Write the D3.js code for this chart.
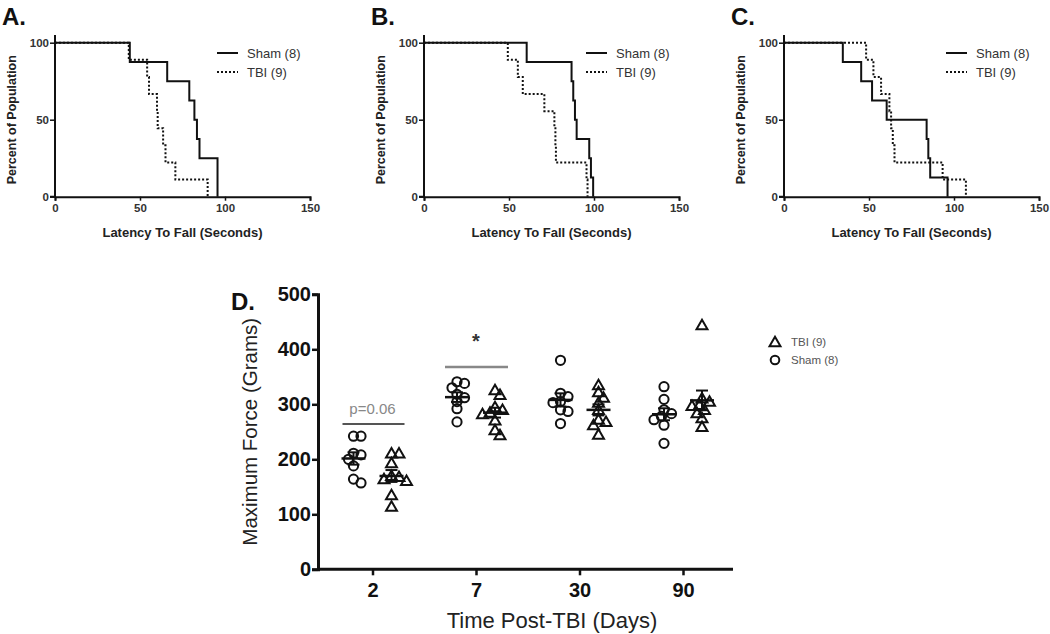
<!DOCTYPE html>
<html>
<head>
<meta charset="utf-8">
<script src="https://cdn.jsdelivr.net/npm/d3@7"></script>
<style>
  html, body { margin: 0; padding: 0; background: #fff; }
  svg { display: block; font-family: Arial, "Liberation Sans", sans-serif; }
</style>
</head>
<body>
<svg id="chart" width="1050" height="634"></svg>
<script>
// ---------- Data: Kaplan-Meier event times (seconds) ----------
const panelNames = ["A.", "B.", "C."];
const shamTimesA = [44, 66, 79, 82, 83.5, 85, 95.6, 95.6];
const tbiTimesA  = [43.4, 54.2, 55.3, 60, 60.4, 63.6, 65, 70.8, 89.8];
const shamTimesB = [60.4, 86.8, 87.8, 88.8, 89.8, 97.2, 98.2, 99.5];
const tbiTimesB  = [49.3, 55.2, 58.1, 70.8, 76.7, 77.3, 77.6, 95.6, 96.2];
const shamTimesC = [34.6, 45.4, 51.8, 60.4, 83.9, 84.9, 86, 96.2];
const tbiTimesC  = [48.3, 52.6, 57.1, 62, 63, 64, 65, 93.3, 107];
const survXTicks = [0, 50, 100, 150];
const survYTicks = [0, 50, 100];
const survLegend = ["Sham (8)", "TBI (9)"];

// ---------- Data: grip strength (grams) ----------
const days = ["2", "7", "30", "90"];
const shamForce = [
  [242, 242, 211, 208, 200, 188, 164, 157],
  [341, 338, 330, 318, 312, 305, 292, 268],
  [380, 320, 314, 305, 303, 290, 287, 265],
  [332, 309, 290, 283, 278, 272, 262, 229]
];
const tbiForce = [
  [211, 211, 193, 170, 168, 164, 161, 135, 114],
  [326, 317, 295, 290, 285, 282, 271, 253, 244],
  [335, 322, 312, 303, 290, 272, 268, 262, 245],
  [444, 311, 305, 299, 297, 290, 284, 275, 259]
];
const forceTicks = [0, 100, 200, 300, 400, 500];
const forceLegend = ["TBI (9)", "Sham (8)"];
const annotations = ["p=0.06", "*"];

const svg = d3.select("#chart");
const ink = "#111";
const FONT = "Arial, 'Liberation Sans', sans-serif";

// ---------- Survival panels ----------
const survSets = [
  [shamTimesA, tbiTimesA],
  [shamTimesB, tbiTimesB],
  [shamTimesC, tbiTimesC]
];
const panelX0 = [55, 424, 784];

function kmPoints(times) {
  const n = times.length;
  const sorted = times.slice().sort((a, b) => a - b);
  const pts = [[0, 100]];
  sorted.forEach((t, i) => pts.push([t, 100 * (n - i - 1) / n]));
  return pts;
}

survSets.forEach((sets, p) => {
  const g = svg.append("g");
  const x = d3.scaleLinear().domain([0, 150]).range([panelX0[p], panelX0[p] + 255]);
  const y = d3.scaleLinear().domain([0, 100]).range([196.7, 42.7]);

  const xa = g.append("g").attr("transform", `translate(0,${y(0)})`)
    .call(d3.axisBottom(x).tickValues(survXTicks).tickSize(4).tickPadding(3));
  const ya = g.append("g").attr("transform", `translate(${x(0)},0)`)
    .call(d3.axisLeft(y).tickValues(survYTicks).tickSize(5).tickPadding(1));
  ya.select(".domain").attr("d", `M-5,${y(0)}H0V35`);
  [xa, ya].forEach(a => {
    a.select(".domain").attr("stroke", ink).attr("stroke-width", 2);
    a.selectAll(".tick line").attr("stroke", ink).attr("stroke-width", 1.5);
    a.selectAll("text").attr("fill", "#333").attr("font-size", 11.5).attr("font-weight", "bold")
      .attr("font-family", FONT);
  });

  const line = d3.line().x(d => x(d[0])).y(d => y(d[1])).curve(d3.curveStepAfter);
  g.append("path").datum(kmPoints(sets[1])).attr("d", line)
    .attr("fill", "none").attr("stroke", ink).attr("stroke-width", 2).attr("stroke-dasharray", "2,2");
  g.append("path").datum(kmPoints(sets[0])).attr("d", line)
    .attr("fill", "none").attr("stroke", ink).attr("stroke-width", 2);

  survLegend.forEach((lab, i) => {
    const ly = 53 + i * 19;
    g.append("line").attr("x1", x(0) + 162).attr("x2", x(0) + 183).attr("y1", ly).attr("y2", ly)
      .attr("stroke", ink).attr("stroke-width", 2).attr("stroke-dasharray", i ? "2,2" : null);
    g.append("text").attr("x", x(0) + 192).attr("y", ly + 4.5).text(lab)
      .attr("font-size", 13).attr("fill", "#333");
  });

  g.append("text").attr("transform", `translate(${x(0) - 39},${y(50)}) rotate(-90)`)
    .attr("text-anchor", "middle").attr("font-size", 12.5).attr("font-weight", "bold").attr("fill", "#222")
    .text("Percent of Population");
  g.append("text").attr("x", x(75)).attr("y", 237).attr("text-anchor", "middle")
    .attr("font-size", 13).attr("font-weight", "bold").attr("fill", "#222")
    .text("Latency To Fall (Seconds)");
  g.append("text").attr("x", x(0) - 53).attr("y", 25).attr("font-size", 24).attr("font-weight", "bold")
    .attr("fill", ink).text(panelNames[p]);
});

// ---------- Panel D ----------
const gD = svg.append("g");
const xD = d3.scalePoint().domain(days).range([372.5, 683]);
const yD = d3.scaleLinear().domain([0, 500]).range([569.3, 294.3]);
const axisL = 318, axisR = 733;

const xaD = gD.append("g").attr("transform", `translate(0,${yD(0)})`)
  .call(d3.axisBottom(xD).tickSize(6).tickPadding(5));
xaD.select(".domain").attr("d", `M${axisL},0H${axisR}`);
const yaD = gD.append("g").attr("transform", `translate(${axisL},0)`)
  .call(d3.axisLeft(yD).tickValues(forceTicks).tickSize(6).tickPadding(1));
[xaD, yaD].forEach(a => {
  a.select(".domain").attr("stroke", ink).attr("stroke-width", 3);
  a.selectAll(".tick line").attr("stroke", ink).attr("stroke-width", 2.5);
  a.selectAll("text").attr("fill", ink).attr("font-size", 20).attr("font-weight", "bold")
    .attr("font-family", FONT);
});
xaD.selectAll("text").attr("dy", "0.85em");

gD.append("text").attr("transform", `translate(257,${yD(250)}) rotate(-90)`)
  .attr("text-anchor", "middle").attr("font-size", 20.5).attr("fill", "#222")
  .text("Maximum Force (Grams)");
gD.append("text").attr("x", 552).attr("y", 628).attr("text-anchor", "middle")
  .attr("font-size", 22).attr("fill", "#222").text("Time Post-TBI (Days)");
gD.append("text").attr("x", 231).attr("y", 310).attr("font-size", 24).attr("font-weight", "bold")
  .attr("fill", ink).text("D.");

function dodge(vals, cx, r) {
  const placed = [];
  return vals.map(v => {
    const py = yD(v);
    let best = 0;
    for (let k = 0; k < 30; k++) {
      const off = (k % 2 ? 1 : -1) * Math.ceil(k / 2) * 2.5;
      const ok = placed.every(q => (q[0] - (cx + off)) ** 2 + (q[1] - py) ** 2 >= r * r);
      if (ok) { best = off; break; }
    }
    placed.push([cx + best, py]);
    return [cx + best, py];
  });
}

const triPath = d3.symbol().type(d3.symbolTriangle).size(52);

days.forEach((d, i) => {
  const cx = xD(d);
  const groups = [
    { vals: shamForce[i], c: cx - 19, kind: "circle" },
    { vals: tbiForce[i], c: cx + 19, kind: "tri" }
  ];
  groups.forEach(gr => {
    const pts = dodge(gr.vals, gr.c, 7);
    pts.forEach(pt => {
      if (gr.kind === "circle") {
        gD.append("circle").attr("cx", pt[0]).attr("cy", pt[1]).attr("r", 4.6)
          .attr("fill", "none").attr("stroke", ink).attr("stroke-width", 2);
      } else {
        gD.append("path").attr("d", triPath).attr("transform", `translate(${pt[0]},${pt[1] + 1})`)
          .attr("fill", "none").attr("stroke", ink).attr("stroke-width", 2);
      }
    });
    const m = d3.mean(gr.vals);
    const sem = d3.deviation(gr.vals) / Math.sqrt(gr.vals.length);
    gD.append("line").attr("x1", gr.c - 12).attr("x2", gr.c + 12).attr("y1", yD(m)).attr("y2", yD(m))
      .attr("stroke", ink).attr("stroke-width", 2.5);
    gD.append("line").attr("x1", gr.c).attr("x2", gr.c).attr("y1", yD(m - sem)).attr("y2", yD(m + sem))
      .attr("stroke", ink).attr("stroke-width", 2);
    [m - sem, m + sem].forEach(v => gD.append("line").attr("x1", gr.c - 6).attr("x2", gr.c + 6)
      .attr("y1", yD(v)).attr("y2", yD(v)).attr("stroke", ink).attr("stroke-width", 2));
  });
});

gD.append("line").attr("x1", xD("2") - 30).attr("x2", xD("2") + 32).attr("y1", 424).attr("y2", 424)
  .attr("stroke", "#555").attr("stroke-width", 2);
gD.append("text").attr("x", xD("2")).attr("y", 414).attr("text-anchor", "middle")
  .attr("font-size", 15).attr("fill", "#888").text(annotations[0]);
gD.append("line").attr("x1", xD("7") - 31).attr("x2", xD("7") + 32).attr("y1", 367).attr("y2", 367)
  .attr("stroke", "#888").attr("stroke-width", 2.5);
gD.append("text").attr("x", xD("7")).attr("y", 348).attr("text-anchor", "middle")
  .attr("font-size", 20).attr("font-weight", "bold").attr("fill", "#333").text(annotations[1]);

forceLegend.forEach((lab, i) => {
  const ly = 342 + i * 18;
  if (i === 0) {
    gD.append("path").attr("d", triPath).attr("transform", `translate(775,${ly + 1})`)
      .attr("fill", "none").attr("stroke", ink).attr("stroke-width", 2);
  } else {
    gD.append("circle").attr("cx", 775).attr("cy", ly).attr("r", 4.3)
      .attr("fill", "none").attr("stroke", ink).attr("stroke-width", 2);
  }
  gD.append("text").attr("x", 791).attr("y", ly + 4).attr("font-size", 11.5).attr("fill", "#555").text(lab);
});
</script>
</body>
</html>
